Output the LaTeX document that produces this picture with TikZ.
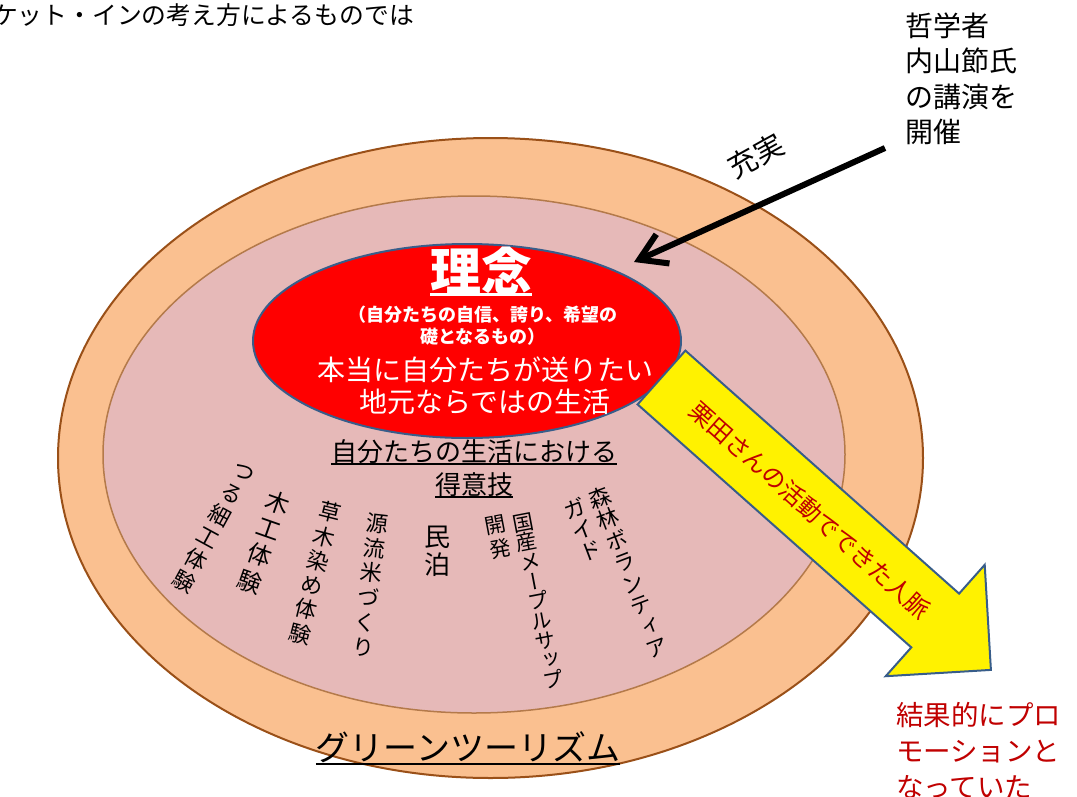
\documentclass[tikz,border=0pt]{standalone}
\usepackage{fontspec}
\setmainfont{Noto Sans CJK JP}
\newfontfamily\vjp[RawFeature=+vert]{Noto Sans CJK JP}
\usetikzlibrary{shapes.geometric,arrows.meta}
\definecolor{outerfill}{HTML}{FAC090}
\definecolor{outerdraw}{HTML}{9A5018}
\definecolor{innerfill}{HTML}{E6B9B8}
\definecolor{innerdraw}{HTML}{B47A4A}
\definecolor{shapeline}{HTML}{385D8A}
\definecolor{darkred}{HTML}{C00000}
\newcommand\fsz[2]{\fontsize{#1pt}{#2pt}\selectfont}
\newsavebox\ulbox
\newcommand\myul[3]{\sbox\ulbox{#3}\rlap{\smash{\rule[-#1]{\wd\ulbox}{#2}}}\usebox\ulbox}
\tikzset{
  ring/.style={ellipse, inner sep=0pt},
  plain/.style={inner sep=0pt, outer sep=0pt},
  vtext/.style 2 args={plain, align=center, font={\vjp\fsz{#1}{#2}\lineskiplimit=-100pt}},
  wtext/.style={plain, text=white},
}
\begin{document}
\begin{tikzpicture}[x=1pt,y=-1pt]
\useasboundingbox (0,0) rectangle (1077,796);
% rings
\node[ring, draw=outerdraw, line width=2pt, fill=outerfill, minimum width=865pt, minimum height=640pt] (outer) at (490.5,458) {};
\node[ring, draw=innerdraw, line width=1.5pt, fill=innerfill, minimum width=742pt, minimum height=517pt] (inner) at (474,454.5) {};
\node[ring, draw=shapeline, line width=2pt, fill=red, minimum width=428pt, minimum height=194pt] (idea) at (467,341) {};
% yellow arrow
\draw[draw=shapeline, line width=2pt, fill=yellow, line join=miter]
  (685.4,350.6) -- (959.1,593.6) -- (984.7,564.8) -- (990.9,669.9) -- (885.7,676.2) -- (911.3,647.4) -- (637.6,404.4) -- cycle;
\node[plain, text=darkred, font=\fsz{24}{24}, rotate=-41.6] (network) at (810,510) {栗田さんの活動でできた人脈};
% idea texts
\node[wtext, font=\bfseries\fsz{51}{51}] (rinen) at (481,271) {\myul{5pt}{2.5pt}{理念}};
\node[wtext, font=\bfseries\fsz{18}{22}, align=center] (rinensub) at (483,326) {（自分たちの自信、誇り、希望の\\礎となるもの）};
\node[wtext, font=\fsz{28}{32}, align=center] (rinenmain) at (485,386) {本当に自分たちが送りたい\\地元ならではの生活};
% skills
\node[plain, font=\fsz{26}{33}, align=center] (skills) at (474,468.5) {\myul{3pt}{1.5pt}{自分たちの生活における}\\\myul{3pt}{1.5pt}{得意技}};
\node[vtext={22}{25}, rotate=-28.6] (c1) at (213,528) {つ\\る\\細\\工\\体\\験};
\node[vtext={24}{28}, rotate=-19.3] (c2) at (264,542) {木\\工\\体\\験};
\node[vtext={22}{25}, rotate=-14] (c3) at (315,573) {草\\木\\染\\め\\体\\験};
\node[vtext={22}{25}, rotate=-6.4] (c4) at (370,585) {源\\流\\米\\づ\\く\\り};
\node[vtext={26}{28}] (c5) at (437,551) {民\\泊};
\node[vtext={21}{20}, rotate=10.8] (c6) at (538,601) {国\\産\\メ\\ー\\プ\\ル\\サ\\ッ\\プ};
\node[vtext={21}{24}, rotate=10.8] (c7) at (498,537) {開\\発};
\node[vtext={22}{23}, rotate=20.8] (c8) at (628.5,572) {森\\林\\ボ\\ラ\\ン\\テ\\ィ\\ア};
\node[vtext={22}{22.5}, rotate=20.8] (c9) at (583,530) {ガ\\イ\\ド};
% green tourism
\node[plain, font=\fsz{34}{34}] (gt) at (468,747) {\myul{5pt}{2pt}{グリーンツーリズム}};
% top-left caption
\node[plain, font=\fsz{24.8}{24.8}, anchor=east] (caption) at (414,15) {ケット・インの考え方によるものでは};
% lecture
\node[plain, font=\fsz{28}{35.5}, align=left, anchor=west] (lecture) at (905,79) {哲学者\\内山節氏\\の講演を\\開催};
\coordinate (lecturetail) at (885,148);
\coordinate (lecturetip) at (634,262);
\draw[line width=6pt, -{Straight Barb[length=26pt,width=32pt]}] (lecturetail) -- (lecturetip);
\node[plain, font=\fsz{29}{29}, rotate=29] (fulfil) at (756,156) {充実};
% result
\node[plain, text=darkred, font=\fsz{27.5}{36}, align=left, anchor=west] (result) at (896,751) {結果的にプロ\\モーションと\\なっていた};
\end{tikzpicture}
\end{document}
